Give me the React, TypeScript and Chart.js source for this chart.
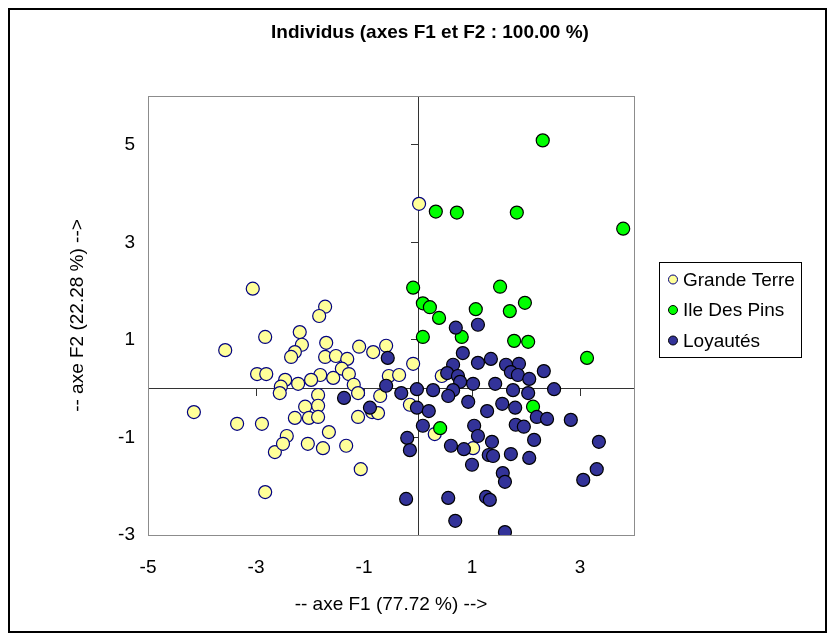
import React, { useEffect, useRef } from "react";
import { Chart, registerables } from "chart.js";

Chart.register(...registerables);

const chartTitle = "Individus (axes F1 et F2 : 100.00 %)";
const xAxisTitle = "-- axe F1 (77.72 %) -->";
const yAxisTitle = "-- axe F2 (22.28 %) -->";
const xTicks = [-5, -3, -1, 1, 3];
const yTicks = [-3, -1, 1, 3, 5];
const xRange = [-5, 4];
const yRange = [-3, 6];
const seriesNames = ["Grande Terre", "Ile Des Pins", "Loyautés"];

const grandeTerre: [number, number][] = [
  [0.02, 3.79], [-3.06, 2.05], [-2.83, 1.06], [-3.57, 0.79], [-2.98, 0.3], [-2.81, 0.3],
  [-4.15, -0.48], [-3.35, -0.72], [-2.89, -0.72], [-2.65, -1.3], [-2.83, -2.12], [-1.72, 1.68],
  [-1.83, 1.49], [-2.19, 1.16], [-2.15, 0.9], [-2.28, 0.75], [-2.35, 0.65], [-1.7, 0.94],
  [-1.72, 0.65], [-1.52, 0.67], [-1.31, 0.61], [-1.09, 0.86], [-0.83, 0.75], [-0.59, 0.88],
  [-1.41, 0.41], [-1.28, 0.3], [-1.57, 0.22], [-1.81, 0.28], [-1.98, 0.18], [-2.22, 0.1],
  [-2.46, 0.18], [-2.54, 0.04], [-2.56, -0.09], [-1.19, 0.08], [-1.11, -0.09], [-0.7, -0.15],
  [-0.54, 0.26], [-0.35, 0.28], [-0.09, 0.51], [-1.85, -0.13], [-1.85, -0.35], [-2.09, -0.37],
  [-2.02, -0.6], [-2.28, -0.6], [-1.85, -0.58], [-2.43, -0.97], [-2.5, -1.13], [-2.04, -1.13],
  [-0.85, -0.48], [-0.74, -0.5], [-1.11, -0.58], [-0.15, -0.33], [0.44, 0.26], [0.31, -0.93],
  [1.02, -1.22], [-1.06, -1.65], [-1.33, -1.17], [-1.65, -0.89], [-1.76, -1.22],
];

const ileDesPins: [number, number][] = [
  [2.31, 5.09], [0.33, 3.63], [0.72, 3.61], [1.83, 3.61], [3.8, 3.28], [-0.09, 2.07],
  [1.52, 2.09], [0.09, 1.75], [0.22, 1.67], [0.39, 1.45], [1.07, 1.63], [1.7, 1.59],
  [1.98, 1.76], [0.09, 1.06], [0.81, 1.06], [1.78, 0.98], [2.04, 0.96], [3.13, 0.63],
  [2.13, -0.37], [0.41, -0.81],
];

const loyautes: [number, number][] = [
  [0.7, 1.25], [1.11, 1.31], [0.83, 0.73], [0.65, 0.49], [0.54, 0.32], [1.11, 0.53],
  [1.35, 0.61], [0.74, 0.26], [0.78, 0.14], [1.02, 0.1], [0.65, -0.03], [1.43, 0.1],
  [-0.02, -0.01], [0.28, -0.03], [0.56, -0.15], [0.93, -0.27], [-0.02, -0.39], [0.2, -0.46],
  [1.28, -0.46], [1.56, -0.31], [0.09, -0.76], [1.04, -0.76], [1.11, -0.97], [-0.2, -1.01],
  [-0.15, -1.26], [0.61, -1.17], [0.85, -1.24], [1.37, -1.09], [1.0, -1.56], [1.31, -1.36],
  [1.39, -1.38], [1.72, -1.34], [2.15, -1.05], [2.06, -1.42], [3.35, -1.09], [3.31, -1.65],
  [3.06, -1.87], [1.57, -1.73], [1.61, -1.91], [-0.22, -2.26], [0.56, -2.24], [1.26, -2.22],
  [1.33, -2.28], [0.69, -2.71], [1.61, -2.94], [1.63, 0.49], [1.87, 0.51], [1.72, 0.34],
  [1.85, 0.28], [2.06, 0.2], [2.33, 0.36], [1.76, -0.03], [2.04, -0.09], [2.52, -0.01],
  [1.8, -0.39], [2.2, -0.58], [2.39, -0.62], [2.83, -0.64], [1.81, -0.74], [1.96, -0.78],
  [-0.56, 0.63], [-0.59, 0.06], [-0.31, -0.09], [-1.37, -0.19], [-0.89, -0.39],
];

const FONT = '"Liberation Sans", Arial, Helvetica, sans-serif';

export default function App() {
  const ref = useRef<HTMLCanvasElement>(null);

  useEffect(() => {
    if (!ref.current) return;
    const toPts = (a: [number, number][]) => a.map(([x, y]) => ({ x, y }));
    const setTicks = (vals: number[]) => (scale: any) => {
      scale.ticks = vals.map((v) => ({ value: v }));
    };

    const plotFrame = {
      id: "plotFrame",
      beforeDatasetsDraw(chart: any) {
        const { ctx, chartArea: a } = chart;
        ctx.save();
        ctx.strokeStyle = "#8c8c8c";
        ctx.lineWidth = 1;
        ctx.strokeRect(a.left + 0.5, a.top + 0.5, a.right - a.left, a.bottom - a.top);
        ctx.restore();
      },
    };

    const titleAndLegend = {
      id: "titleAndLegend",
      afterDraw(chart: any) {
        const { ctx, chartArea: a } = chart;
        ctx.save();
        ctx.fillStyle = "#000";
        ctx.font = `bold 19px ${FONT}`;
        ctx.textAlign = "center";
        ctx.textBaseline = "middle";
        ctx.fillText(chartTitle, chart.width / 2 + 12.5, 23);

        const left = a.right + 25;
        const top = (a.top + a.bottom) / 2 - 53.5;
        const w = 142;
        const h = 95;
        ctx.fillStyle = "#fff";
        ctx.fillRect(left, top, w, h);
        ctx.strokeStyle = "#000";
        ctx.lineWidth = 1;
        ctx.strokeRect(left + 0.5, top + 0.5, w, h);
        ctx.font = `19px ${FONT}`;
        ctx.textAlign = "left";
        chart.data.datasets.forEach((ds: any, i: number) => {
          const cy = top + 17.5 + i * 30.5;
          ctx.beginPath();
          ctx.arc(left + 14, cy, 4.5, 0, Math.PI * 2);
          ctx.fillStyle = ds.backgroundColor;
          ctx.fill();
          ctx.strokeStyle = ds.borderColor;
          ctx.lineWidth = 1;
          ctx.stroke();
          ctx.fillStyle = "#000";
          ctx.fillText(ds.label, left + 24, cy + 1);
        });
        ctx.restore();
      },
    };

    const tickFont = { size: 19, family: FONT };

    const chart = new Chart(ref.current, {
      type: "scatter",
      data: {
        datasets: [
          {
            label: seriesNames[0],
            data: toPts(grandeTerre),
            backgroundColor: "#FFFF99",
            borderColor: "#000080",
            borderWidth: 1.2,
            pointRadius: 6.5,
            pointHoverRadius: 6.5,
            order: 2,
            xAxisID: "x",
            yAxisID: "y",
          },
          {
            label: seriesNames[1],
            data: toPts(ileDesPins),
            backgroundColor: "#00FF00",
            borderColor: "#000000",
            borderWidth: 1.2,
            pointRadius: 6.5,
            pointHoverRadius: 6.5,
            order: 1,
            xAxisID: "x",
            yAxisID: "y",
          },
          {
            label: seriesNames[2],
            data: toPts(loyautes),
            backgroundColor: "#333399",
            borderColor: "#000000",
            borderWidth: 1.2,
            pointRadius: 6.5,
            pointHoverRadius: 6.5,
            order: 0,
            xAxisID: "x",
            yAxisID: "y",
          },
        ],
      },
      options: {
        animation: false,
        responsive: false,
        devicePixelRatio: 1,
        events: [],
        layout: { padding: { top: 86, right: 191, bottom: 0, left: 0 } },
        plugins: {
          legend: { display: false },
          title: { display: false },
          tooltip: { enabled: false },
        },
        scales: {
          x: {
            type: "linear",
            position: "bottom",
            min: xRange[0],
            max: xRange[1],
            afterBuildTicks: setTicks(xTicks),
            afterFit: (s: any) => {
              s.height = 96;
            },
            grid: { display: false },
            border: { display: false },
            ticks: { padding: 13, color: "#000", font: tickFont, callback: (v: any) => String(v) },
            title: {
              display: true,
              text: xAxisTitle,
              color: "#000",
              font: tickFont,
              padding: { top: 0, bottom: 15 },
            },
          },
          y: {
            type: "linear",
            position: "left",
            min: yRange[0],
            max: yRange[1],
            afterBuildTicks: setTicks(yTicks),
            afterFit: (s: any) => {
              s.width = 138;
            },
            grid: { display: false },
            border: { display: false },
            ticks: { padding: 5, color: "#000", font: tickFont, callback: (v: any) => String(v) },
            title: {
              display: true,
              text: yAxisTitle,
              color: "#000",
              font: tickFont,
              padding: { top: 56, bottom: 0 },
            },
          },
          x0: {
            type: "linear",
            axis: "x",
            position: { y: 0 },
            min: xRange[0],
            max: xRange[1],
            afterBuildTicks: setTicks(xTicks),
            ticks: { display: false },
            grid: { display: true, drawOnChartArea: false, drawTicks: true, tickLength: 7, color: "#333", lineWidth: 1 },
            border: { display: true, color: "#333", width: 1 },
          },
          y0: {
            type: "linear",
            axis: "y",
            position: { x: 0 },
            min: yRange[0],
            max: yRange[1],
            afterBuildTicks: setTicks(yTicks),
            ticks: { display: false },
            grid: { display: true, drawOnChartArea: false, drawTicks: true, tickLength: 7, color: "#333", lineWidth: 1 },
            border: { display: true, color: "#333", width: 1 },
          },
        },
      } as any,
      plugins: [plotFrame, titleAndLegend],
    });

    return () => chart.destroy();
  }, []);

  return (
    <div
      style={{
        width: 819,
        height: 625,
        border: "2px solid #000",
        boxSizing: "border-box",
        background: "#fff",
      }}
    >
      <canvas ref={ref} width={815} height={621} style={{ display: "block", width: 815, height: 621 }} />
    </div>
  );
}
